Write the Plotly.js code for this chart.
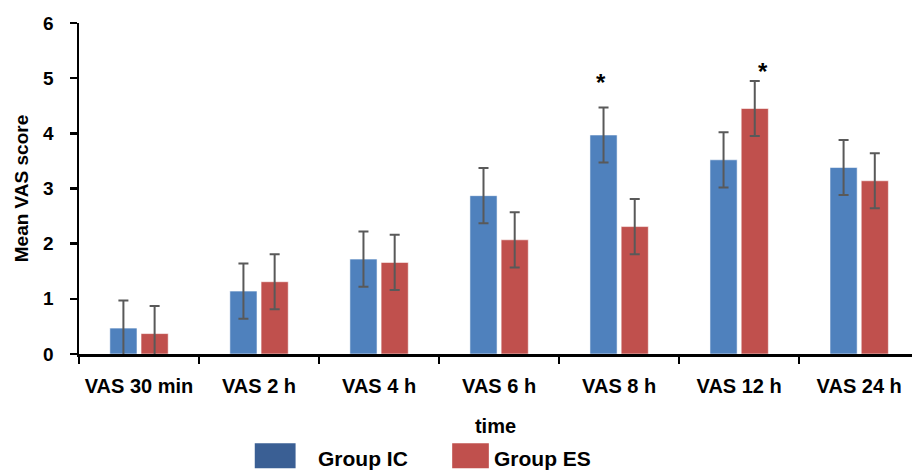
<!DOCTYPE html>
<html><head><meta charset="utf-8">
<script src="https://cdn.plot.ly/plotly-3.0.1.min.js"></script>
<style>html,body{margin:0;padding:0;background:#fff}#chart{width:912px;height:471px}</style>
</head><body><div id="chart"></div>
<script>
const categories = ["VAS 30 min","VAS 2 h","VAS 4 h","VAS 6 h","VAS 8 h","VAS 12 h","VAS 24 h"];
const groupIC = [0.47, 1.14, 1.72, 2.87, 3.97, 3.52, 3.38];
const groupES = [0.37, 1.31, 1.66, 2.07, 2.31, 4.45, 3.14];
const errIC = [0.5, 0.5, 0.5, 0.5, 0.5, 0.5, 0.5];
const errES = [0.5, 0.5, 0.5, 0.5, 0.5, 0.5, 0.5];
const sigIC = [null, null, null, null, 4.93, null, null];
const sigES = [null, null, null, null, null, 5.13, null];
const seriesNames = ["Group IC", "Group ES"];

const F = "Liberation Sans, Arial, sans-serif";
const barLine = {color: "rgba(255,255,255,0.55)", width: 1};
const errStyle = {color: "#595959", thickness: 2, width: 5};

const traces = [
  {type: "bar", name: seriesNames[0], x: categories, y: groupIC,
   marker: {color: "#4f81bd", line: barLine},
   error_y: Object.assign({type: "data", array: errIC, visible: true}, errStyle)},
  {type: "bar", name: seriesNames[1], x: categories, y: groupES,
   marker: {color: "#c0504d", line: barLine},
   error_y: Object.assign({type: "data", array: errES, visible: true}, errStyle)}
];

const annotations = [];
categories.forEach((c, i) => {
  if (sigIC[i] != null) annotations.push({x: c, y: sigIC[i], xref: "x", yref: "y", text: "<b>*</b>", showarrow: false, xshift: -18, font: {family: F, size: 24, color: "#000"}});
  if (sigES[i] != null) annotations.push({x: c, y: sigES[i], xref: "x", yref: "y", text: "<b>*</b>", showarrow: false, xshift: 24, font: {family: F, size: 24, color: "#000"}});
});
// manual legend
annotations.push({xref: "paper", yref: "paper", x: 0.285, y: -0.315, xanchor: "left", yanchor: "middle", text: "<b>" + seriesNames[0] + "</b>", showarrow: false, font: {family: F, size: 21, color: "#000"}});
annotations.push({xref: "paper", yref: "paper", x: 0.496, y: -0.315, xanchor: "left", yanchor: "middle", text: "<b>" + seriesNames[1] + "</b>", showarrow: false, font: {family: F, size: 21, color: "#000"}});

const shapes = [
  {type: "rect", xref: "paper", yref: "paper", x0: 0.211, x1: 0.26, y0: -0.27, y1: -0.345, fillcolor: "#3a5f94", line: {width: 0}},
  {type: "rect", xref: "paper", yref: "paper", x0: 0.448, x1: 0.492, y0: -0.27, y1: -0.345, fillcolor: "#c0504d", line: {width: 0}}
];

const layout = {
  width: 912, height: 471,
  margin: {l: 79, r: 0, t: 23, b: 117},
  paper_bgcolor: "#fff", plot_bgcolor: "#fff",
  barmode: "group", bargap: 0.48, bargroupgap: 0.13,
  showlegend: false,
  font: {family: F, color: "#000"},
  xaxis: {
    type: "category", range: [-0.5, 6.44],
    showline: true, linecolor: "#000", linewidth: 2.5,
    ticks: "outside", tickson: "boundaries", ticklen: 7, tickwidth: 2.5, tickcolor: "#000",
    tickfont: {family: F, size: 20, color: "#000", weight: "bold"},
    ticklabelstandoff: 12,
    showgrid: false, zeroline: false,
    title: {text: "<b>time</b>", font: {family: F, size: 20, color: "#000"}, standoff: 24}
  },
  yaxis: {
    range: [0, 6], dtick: 1, tick0: 0,
    showline: true, linecolor: "#000", linewidth: 2.5,
    ticks: "outside", ticklen: 7, tickwidth: 2.5, tickcolor: "#000",
    tickfont: {family: F, size: 19, color: "#000", weight: "bold"},
    ticklabelstandoff: 12,
    showgrid: false, zeroline: false,
    title: {text: "<b>Mean VAS score</b>", font: {family: F, size: 19, color: "#000"}, standoff: 10}
  },
  annotations: annotations,
  shapes: shapes
};

Plotly.newPlot("chart", traces, layout, {displayModeBar: false, staticPlot: true});
</script></body></html>
